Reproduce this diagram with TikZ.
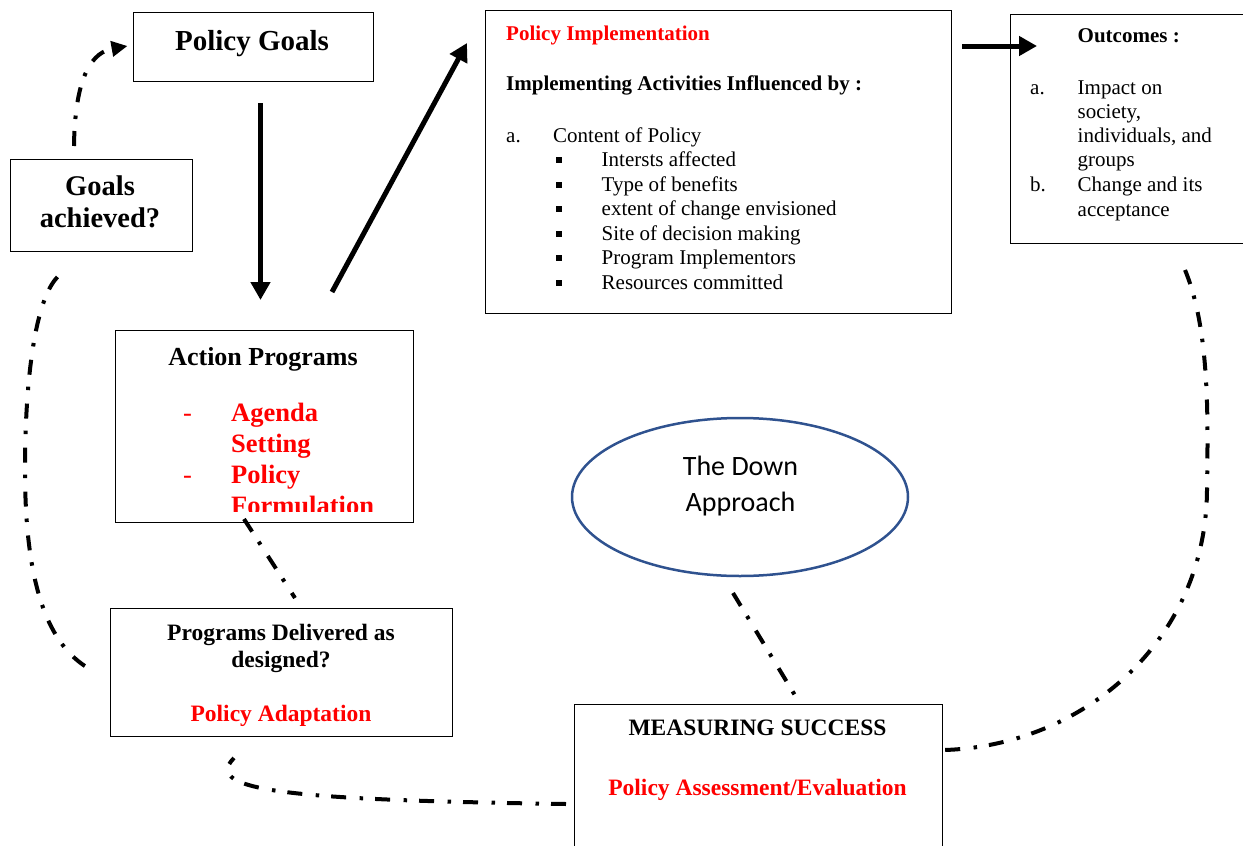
\documentclass[tikz,border=0pt]{standalone}
\usepackage{fontspec}
\setmainfont{Liberation Serif}
\newfontfamily\carl{Carlito}
\usetikzlibrary{arrows.meta,shapes.geometric}
\definecolor{ellblue}{RGB}{47,82,143}
\definecolor{pred}{RGB}{255,0,0}
\tikzset{
  box/.style={draw=black, line width=1.2pt, rectangle, inner sep=0pt, anchor=north west},
  txt/.style={inner sep=0pt, anchor=base west},
  ctxt/.style={inner sep=0pt, anchor=base},
  flow/.style={line width=5pt, -{Triangle[length=18pt,width=19pt]}},
  dd/.style={line width=4pt, dash pattern=on 15pt off 12pt on 3.5pt off 13.5pt},
  ddarrow/.style={dd, -{Triangle[length=16pt,width=15pt]}},
  small/.style={font=\fontsize{21}{24}\selectfont},
  smallb/.style={font=\bfseries\fontsize{21}{24}\selectfont},
  midb/.style={font=\bfseries\fontsize{23.5}{27}\selectfont},
  redb/.style={font=\bfseries\fontsize{26.5}{30}\selectfont, text=pred},
  redh/.style={font=\fontsize{26.5}{30}\selectfont, text=pred},
  bul/.style={fill=black, inner sep=0pt, minimum size=6pt, rectangle},
}
\begin{document}
\begin{tikzpicture}[x=1pt,y=-1pt]
\useasboundingbox (0,0) rectangle (1243,846);

% ---------- boxes ----------
\node[box, minimum width=240pt, minimum height=69pt] (pg) at (133,12) {};
\node[box, minimum width=182pt, minimum height=92pt] (ga) at (9.5,158.5) {};
\node[box, minimum width=466pt, minimum height=303pt] (pi) at (485,10) {};
\node[box, minimum width=260pt, minimum height=229.5pt] (oc) at (1009.5,13.5) {};
\node[box, minimum width=298pt, minimum height=192pt] (ap) at (114.5,329.5) {};
\node[box, minimum width=341.5pt, minimum height=128.5pt] (pd) at (110,607.5) {};
\node[box, minimum width=367.5pt, minimum height=160pt] (ms) at (574,704) {};
\node[draw=ellblue, line width=2.5pt, ellipse, minimum width=336pt, minimum height=158pt, inner sep=0pt] (el) at (740,497) {};

% ---------- texts ----------
\node[ctxt, font=\bfseries\fontsize{29}{33}\selectfont] (pgt) at (252,50) {Policy Goals};

\node[ctxt, font=\bfseries\fontsize{28.5}{32}\selectfont] (ga1) at (100,195.5) {Goals};
\node[ctxt, font=\bfseries\fontsize{28.5}{32}\selectfont] (ga2) at (100,227) {achieved?};

\node[txt, smallb, text=pred] (pi1) at (506,40) {Policy Implementation};
\node[txt, smallb] (pi2) at (506,90) {Implementing Activities Influenced by :};
\node[txt, small] (pia) at (506,142) {a.};
\node[txt, small] (pic) at (553,142) {Content of Policy};
\foreach \y/\t [count=\i] in {166.5/Intersts affected, 191/Type of benefits, 215.5/extent of change envisioned, 240/Site of decision making, 264.5/Program Implementors, 289/Resources committed}{
  \node[bul] (pb\i) at (558.5,\y-6.5) {};
  \node[txt, small] (pt\i) at (601.5,\y) {\t};
}

\node[txt, smallb] (oc1) at (1077.5,42.5) {Outcomes :};
\node[txt, small] (oca) at (1030,94) {a.};
\node[txt, small] (oc2) at (1077.5,94) {Impact on};
\node[txt, small] (oc3) at (1077.5,118.5) {society,};
\node[txt, small] (oc4) at (1077.5,142.5) {individuals, and};
\node[txt, small] (oc5) at (1077.5,166.5) {groups};
\node[txt, small] (ocb) at (1030,191.5) {b.};
\node[txt, small] (oc6) at (1077.5,191.5) {Change and its};
\node[txt, small] (oc7) at (1077.5,216) {acceptance};

\node[ctxt, font=\bfseries\fontsize{26}{30}\selectfont] (apt) at (263,365) {Action Programs};
\begin{scope}
  \clip (115,330) rectangle (412,511.7);
  \node[txt, redh] (apd1) at (183,421) {-};
  \node[txt, redb] (apa1) at (231,421) {Agenda};
  \node[txt, redb] (apa2) at (231,452) {Setting};
  \node[txt, redh] (apd2) at (183,483) {-};
  \node[txt, redb] (apb1) at (231,483) {Policy};
  \node[txt, redb] (apb2) at (231,514) {Formulation};
\end{scope}

\node[ctxt, midb] (pd1) at (281,640) {Programs Delivered as};
\node[ctxt, midb] (pd2) at (281,667) {designed?};
\node[ctxt, midb, text=pred] (pd3) at (281,721.5) {Policy Adaptation};

\node[ctxt, midb] (ms1) at (757.5,735) {MEASURING SUCCESS};
\node[ctxt, midb, text=pred] (ms2) at (757.5,795) {Policy Assessment/Evaluation};

\node[ctxt, font=\carl\fontsize{28}{32}\selectfont] (el1) at (740.5,475) {The Down};
\node[ctxt, font=\carl\fontsize{28}{32}\selectfont] (el2) at (740.5,511) {Approach};

% ---------- connector end points ----------
\coordinate (a1s) at (260.5,103);
\coordinate (a1e) at (260.5,300);
\coordinate (a2s) at (332,292);
\coordinate (a2e) at (467,43);
\coordinate (a3s) at (962,46);
\coordinate (a3e) at (1037,46);
\coordinate (c1s) at (74,146);
\coordinate (c1e) at (127.5,46);
\coordinate (c2s) at (57.5,277);
\coordinate (c2e) at (88,668);
\coordinate (c3s) at (244,519);
\coordinate (c3e) at (295,598);
\coordinate (c4s) at (733,593);
\coordinate (c4e) at (796,697);
\coordinate (c5s) at (1185,270);
\coordinate (c5e) at (945,750);
\coordinate (c6s) at (566,804);
\coordinate (c6e) at (234,758);

% ---------- connectors ----------
\draw[flow] (a1s) -- (a1e);
\draw[flow] (a2s) -- (a2e);
\draw[flow] (a3s) -- (a3e);

\draw[ddarrow] (c1s) .. controls (75,72) and (94,52) .. (c1e);
\draw[dd] (c2s) .. controls (35,300) and (25,380) .. (25,470)
              .. controls (25,590) and (50,645) .. (c2e);
\draw[dd] (c3s) -- (c3e);
\draw[dd] (c4s) -- (c4e);
\draw[dd] (c5s) .. controls (1210,330) and (1208,420) .. (1207,490)
              .. controls (1206,640) and (1085,745) .. (c5e);
\draw[dd] (c6s) .. controls (300,800) and (200,792) .. (c6e);
\end{tikzpicture}
\end{document}
